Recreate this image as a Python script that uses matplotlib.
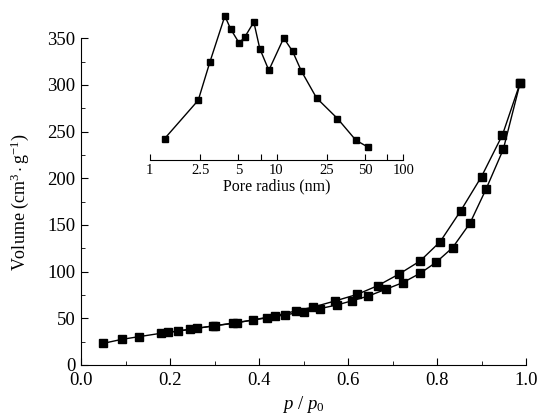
import matplotlib
matplotlib.use("Agg")
import matplotlib.pyplot as plt
from matplotlib.ticker import FixedLocator, NullFormatter, MultipleLocator

# isotherm
p_ads = [0.050, 0.092, 0.131, 0.180, 0.219, 0.260, 0.300, 0.350, 0.417, 0.458, 0.500, 0.536,
         0.575, 0.610, 0.646, 0.685, 0.723, 0.762, 0.798, 0.835, 0.874, 0.910, 0.949, 0.987]
v_ads = [23.2, 27.5, 30.4, 34.0, 36.4, 39.3, 42.0, 45.5, 50.4, 53.6, 57.1, 60.3,
         64.3, 68.9, 73.9, 81.1, 88.2, 98.2, 110.0, 125.7, 151.8, 188.2, 231.1, 302.5]
p_des = [0.987, 0.947, 0.900, 0.853, 0.807, 0.762, 0.715, 0.667, 0.621, 0.571, 0.522,
         0.483, 0.436, 0.386, 0.342, 0.296, 0.245, 0.196]
v_des = [302.5, 246.4, 201.8, 165.0, 132.0, 111.4, 97.5, 85.0, 75.7, 68.6, 62.1,
         57.9, 52.8, 48.2, 44.6, 41.8, 38.2, 35.0]

# pore size distribution (inset, arbitrary units)
r_pore = [1.31, 2.41, 2.98, 3.91, 4.36, 5.07, 5.62, 6.62, 7.38, 8.7, 11.4, 13.4,
          15.7, 20.7, 30.3, 42.3, 52.3]
dv_pore = [0.65, 1.80, 2.95, 4.33, 3.93, 3.52, 3.70, 4.15, 3.35, 2.70, 3.67, 3.27,
           2.68, 1.87, 1.25, 0.60, 0.40]
inset_ticks = [1, 2.5, 5, 7.5, 10, 25, 50, 75, 100]
inset_labels = {1: "1", 2.5: "2.5", 5: "5", 10: "10", 25: "25", 50: "50", 100: "100"}

plt.rcParams["font.family"] = ["Liberation Serif", "DejaVu Serif"]
plt.rcParams["mathtext.fontset"] = "custom"
plt.rcParams["mathtext.rm"] = "Liberation Serif"
plt.rcParams["mathtext.it"] = "Liberation Serif:italic"

fig = plt.figure(figsize=(5.39, 4.16), dpi=100)
ax = fig.add_axes([0.1503, 0.1226, 0.8256, 0.7855])
ax.plot(p_ads, v_ads, "ks-", ms=5.2, lw=1.0)
ax.plot(p_des, v_des, "ks-", ms=5.2, lw=1.0)
ax.set_xlim(0, 1.0)
ax.set_ylim(0, 350)
ax.xaxis.set_major_locator(MultipleLocator(0.2))
ax.xaxis.set_minor_locator(MultipleLocator(0.1))
ax.yaxis.set_major_locator(MultipleLocator(50))
ax.yaxis.set_minor_locator(MultipleLocator(25))
ax.xaxis.set_major_formatter(matplotlib.ticker.FormatStrFormatter("%.1f"))
for s in ("top", "right"):
    ax.spines[s].set_visible(False)
ax.tick_params(direction="in", which="major", length=5, labelsize=13.5, pad=4)
ax.tick_params(axis="x", pad=5)
ax.tick_params(direction="in", which="minor", length=3)
ax.set_xlabel(r"$p$ / $p_0$", fontsize=13.5, labelpad=4)
ax.set_ylabel(r"Volume (cm$^3\cdot$g$^{-1}$)", fontsize=13, labelpad=12)

ins = fig.add_axes([0.278, 0.615, 0.47, 0.356])
ins.plot(r_pore, dv_pore, "ks-", ms=3.8, lw=1.0)
ins.set_xscale("log")
ins.set_xlim(1, 100)
ins.set_ylim(0, 4.45)
ins.patch.set_alpha(0)
for s in ("top", "right", "left"):
    ins.spines[s].set_visible(False)
ins.set_yticks([])
ins.xaxis.set_major_locator(FixedLocator(inset_ticks))
ins.xaxis.set_minor_locator(FixedLocator([]))
ins.set_xticklabels([inset_labels.get(t, "") for t in inset_ticks])
ins.xaxis.set_minor_formatter(NullFormatter())
ins.tick_params(direction="in", length=4, labelsize=10.5, pad=3)
ins.set_xlabel("Pore radius (nm)", fontsize=11.5, labelpad=1)

fig.savefig("out.png", dpi=100)
